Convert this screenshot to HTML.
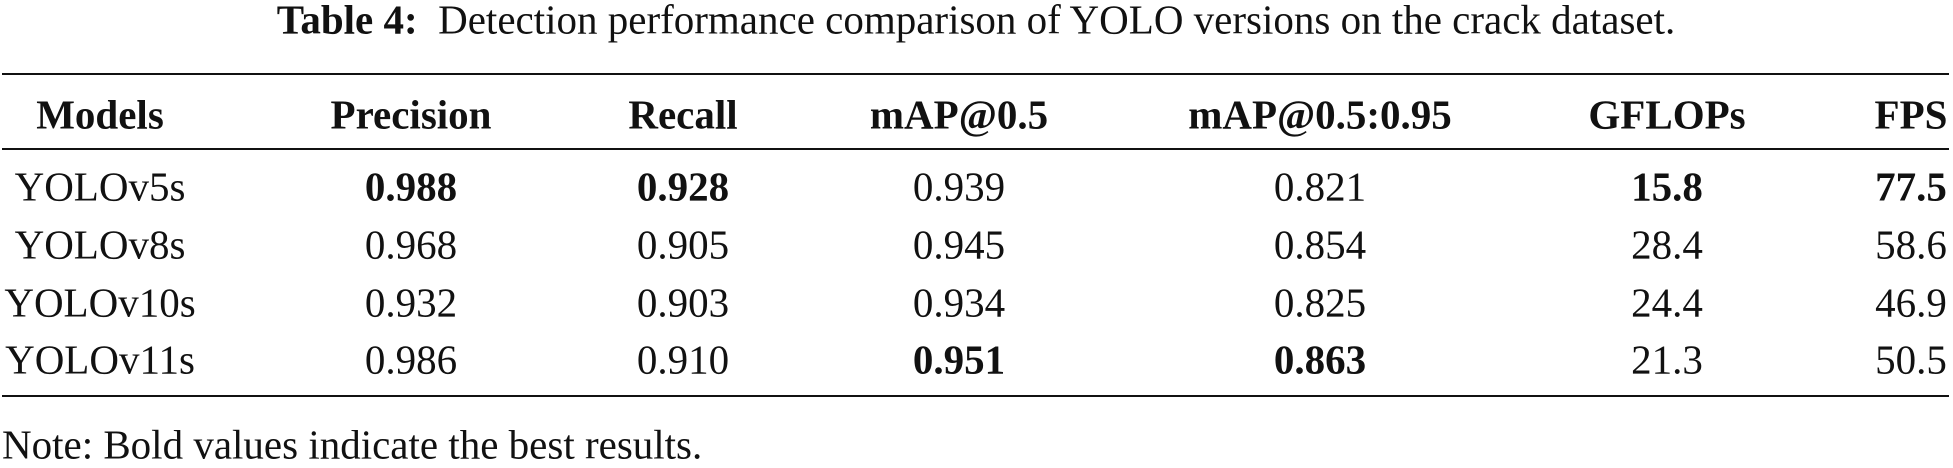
<!DOCTYPE html>
<html><head><style>
body{margin:0;width:1953px;height:463px;background:#fff;position:relative;overflow:hidden;font-family:"Liberation Serif",serif;color:#111;}
.t{position:absolute;white-space:nowrap;line-height:1;transform:translate(-50%,-50%);font-size:41px;}
.r{position:absolute;left:2px;width:1947px;background:#111;}
b{font-weight:bold;}
</style></head><body>
<div class="t" style="left:976px;top:20px;font-size:41px"><b>Table 4:</b>&nbsp; Detection performance comparison of YOLO versions on the crack dataset.</div>
<div class="r" style="top:73px;height:2px"></div>
<div class="r" style="top:148px;height:2px"></div>
<div class="r" style="top:395px;height:2px"></div>
<div class="t" style="left:100px;top:115px"><b>Models</b></div>
<div class="t" style="left:411px;top:115px"><b>Precision</b></div>
<div class="t" style="left:683px;top:115px"><b>Recall</b></div>
<div class="t" style="left:959px;top:115px"><b>mAP@0.5</b></div>
<div class="t" style="left:1320px;top:115px"><b>mAP@0.5:0.95</b></div>
<div class="t" style="left:1667px;top:115px"><b>GFLOPs</b></div>
<div class="t" style="left:1911px;top:115px"><b>FPS</b></div>

<div class="t" style="left:100px;top:187px">YOLOv5s</div>
<div class="t" style="left:411px;top:187px"><b>0.988</b></div>
<div class="t" style="left:683px;top:187px"><b>0.928</b></div>
<div class="t" style="left:959px;top:187px">0.939</div>
<div class="t" style="left:1320px;top:187px">0.821</div>
<div class="t" style="left:1667px;top:187px"><b>15.8</b></div>
<div class="t" style="left:1911px;top:187px"><b>77.5</b></div>

<div class="t" style="left:100px;top:245px">YOLOv8s</div>
<div class="t" style="left:411px;top:245px">0.968</div>
<div class="t" style="left:683px;top:245px">0.905</div>
<div class="t" style="left:959px;top:245px">0.945</div>
<div class="t" style="left:1320px;top:245px">0.854</div>
<div class="t" style="left:1667px;top:245px">28.4</div>
<div class="t" style="left:1911px;top:245px">58.6</div>

<div class="t" style="left:100px;top:303px">YOLOv10s</div>
<div class="t" style="left:411px;top:303px">0.932</div>
<div class="t" style="left:683px;top:303px">0.903</div>
<div class="t" style="left:959px;top:303px">0.934</div>
<div class="t" style="left:1320px;top:303px">0.825</div>
<div class="t" style="left:1667px;top:303px">24.4</div>
<div class="t" style="left:1911px;top:303px">46.9</div>

<div class="t" style="left:100px;top:360px">YOLOv11s</div>
<div class="t" style="left:411px;top:360px">0.986</div>
<div class="t" style="left:683px;top:360px">0.910</div>
<div class="t" style="left:959px;top:360px"><b>0.951</b></div>
<div class="t" style="left:1320px;top:360px"><b>0.863</b></div>
<div class="t" style="left:1667px;top:360px">21.3</div>
<div class="t" style="left:1911px;top:360px">50.5</div>

<div class="t" style="left:2px;top:445px;transform:translate(0,-50%);font-size:41px">Note: Bold values indicate the best results.</div>
</body></html>
